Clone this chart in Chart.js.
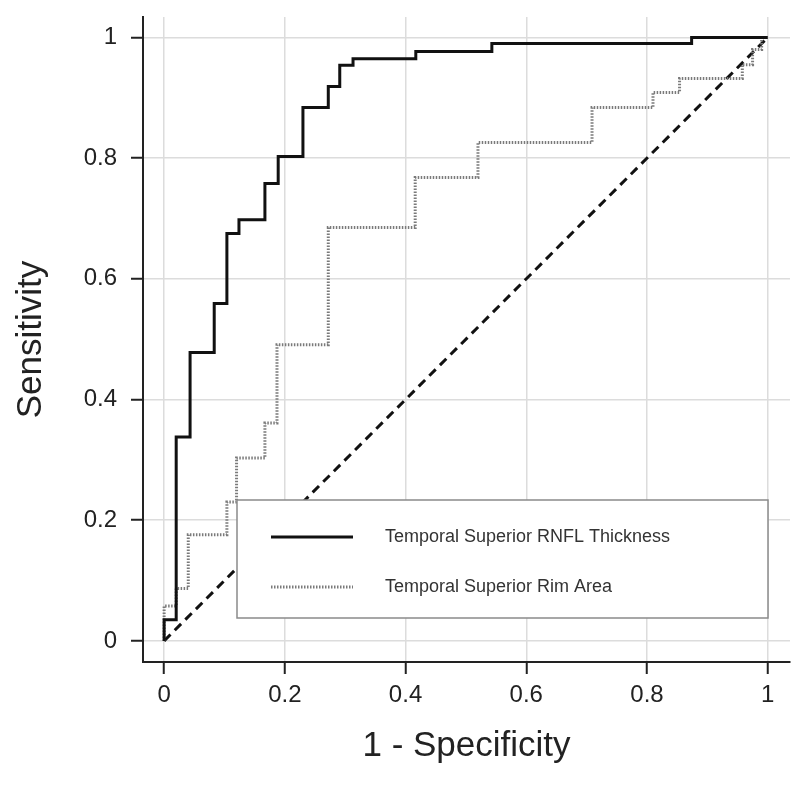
<!DOCTYPE html>
<html>
<head>
<meta charset="utf-8">
<script src="https://cdn.jsdelivr.net/npm/chart.js@4"></script>
<style>
  html, body { margin: 0; padding: 0; background: #fff; }
  #wrap { width: 800px; height: 786px; }
</style>
</head>
<body>
<div id="wrap"><canvas id="roc"></canvas></div>
<script>
// ROC vertices (1 - specificity, sensitivity)
var rnflFpr = [0, 0, 0.02, 0.043, 0.083, 0.104, 0.124, 0.167, 0.189, 0.23, 0.272, 0.291, 0.313, 0.417, 0.543, 0.874, 1];
var rnflTpr = [0, 0.035, 0.338, 0.478, 0.559, 0.675, 0.698, 0.758, 0.803, 0.884, 0.919, 0.954, 0.965, 0.977, 0.99, 1, 1];

var rimFpr = [0, 0, 0.02, 0.04, 0.104, 0.12, 0.167, 0.187, 0.272, 0.416, 0.52, 0.709, 0.81, 0.854, 0.958, 0.975, 0.99, 1];
var rimTpr = [0, 0.058, 0.087, 0.176, 0.23, 0.303, 0.361, 0.491, 0.685, 0.768, 0.826, 0.884, 0.909, 0.932, 0.955, 0.98, 1, 1];

var refFpr = [0, 1];
var refTpr = [0, 1];

var tickValues = [0, 0.2, 0.4, 0.6, 0.8, 1];
var tickLabels = ['0', '0.2', '0.4', '0.6', '0.8', '1'];
var seriesLabels = ['Temporal Superior RNFL Thickness', 'Temporal Superior Rim Area'];

var FONT = '"Liberation Sans", Arial, sans-serif';

function toPoints(xs, ys) {
  return xs.map(function (x, i) { return { x: x, y: ys[i] }; });
}

// legend drawn inside the plot, on a white box
var insideLegend = {
  id: 'insideLegend',
  afterDatasetsDraw: function (chart) {
    var ctx = chart.ctx, a = chart.chartArea;
    var left = a.left + 94, right = a.right - 22;
    var top = a.bottom - 162, bottom = a.bottom - 44;
    ctx.save();
    ctx.fillStyle = '#fff';
    ctx.fillRect(left, top, right - left, bottom - top);
    ctx.strokeStyle = '#8a8a8a';
    ctx.lineWidth = 1.5;
    ctx.strokeRect(left, top, right - left, bottom - top);
    ctx.font = '18px ' + FONT;
    ctx.textBaseline = 'middle';
    var rows = [top + 37, top + 87];
    for (var i = 0; i < 2; i++) {
      var ds = chart.data.datasets[i];
      ctx.beginPath();
      ctx.strokeStyle = ds.borderColor;
      ctx.lineWidth = ds.borderWidth;
      ctx.setLineDash(ds.borderDash || []);
      ctx.moveTo(left + 34, rows[i]);
      ctx.lineTo(left + 116, rows[i]);
      ctx.stroke();
      ctx.setLineDash([]);
      ctx.fillStyle = '#333';
      ctx.fillText(ds.label, left + 148, rows[i]);
    }
    ctx.restore();
  }
};

function fixedTicks(scale) {
  scale.ticks = tickValues.map(function (v) { return { value: v }; });
}

function tickText(value) {
  var i = tickValues.indexOf(value);
  return i >= 0 ? tickLabels[i] : '';
}

new Chart(document.getElementById('roc'), {
  type: 'scatter',
  data: {
    datasets: [{
      label: seriesLabels[0],
      data: toPoints(rnflFpr, rnflTpr),
      showLine: true,
      stepped: true,
      borderColor: '#111',
      borderWidth: 3,
      pointRadius: 0
    }, {
      label: seriesLabels[1],
      data: toPoints(rimFpr, rimTpr),
      showLine: true,
      stepped: true,
      borderColor: '#7a7a7a',
      borderWidth: 3,
      borderDash: [1.5, 1.5],
      pointRadius: 0
    }, {
      label: 'Reference',
      data: toPoints(refFpr, refTpr),
      showLine: true,
      borderColor: '#111',
      borderWidth: 3,
      borderDash: [9, 6],
      pointRadius: 0
    }]
  },
  options: {
    responsive: true,
    maintainAspectRatio: false,
    animation: false,
    layout: { padding: { top: 17, right: 10, left: 0, bottom: 0 } },
    plugins: {
      legend: { display: false },
      tooltip: { enabled: false }
    },
    scales: {
      x: {
        type: 'linear',
        min: -0.035,
        max: 1.037,
        afterBuildTicks: fixedTicks,
        afterFit: function (s) { s.height = 124; },
        grid: { color: '#dcdcdc', lineWidth: 1.5, tickColor: '#222', tickLength: 12, tickWidth: 2 },
        border: { color: '#222', width: 2 },
        ticks: { color: '#222', padding: 7, callback: tickText, font: { family: FONT, size: 24 } },
        title: {
          display: true,
          text: '1 - Specificity',
          color: '#222',
          padding: { top: 0, bottom: 19 },
          font: { family: FONT, size: 35 }
        }
      },
      y: {
        type: 'linear',
        min: -0.035,
        max: 1.034,
        afterBuildTicks: fixedTicks,
        afterFit: function (s) { s.width = 143; s.paddingTop = 0; s.paddingBottom = 0; },
        grid: { color: '#dcdcdc', lineWidth: 1.5, tickColor: '#222', tickLength: 12, tickWidth: 2 },
        border: { color: '#222', width: 2 },
        ticks: { color: '#222', padding: 14, callback: tickText, font: { family: FONT, size: 24 } },
        title: {
          display: true,
          text: 'Sensitivity',
          color: '#222',
          padding: { top: 10, bottom: 0 },
          font: { family: FONT, size: 35 }
        }
      }
    }
  },
  plugins: [insideLegend]
});
</script>
</body>
</html>
